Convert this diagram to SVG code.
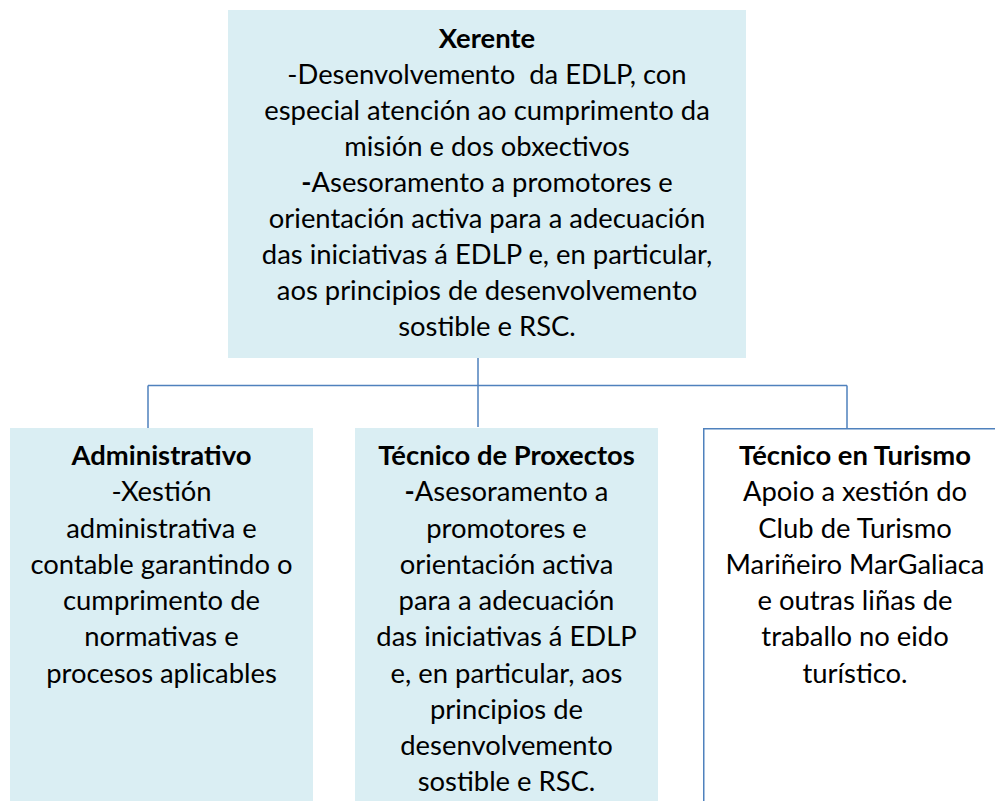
<svg xmlns="http://www.w3.org/2000/svg" width="995" height="801" viewBox="0 0 995 801">
<style>
.box{fill:#DAEEF3;}
.obox{fill:#FFFFFF;stroke:#4F81BD;stroke-width:1.5;}
.conn{fill:none;stroke:#4F81BD;stroke-width:1.5;}
text{font-family:Lato,"Open Sans","Liberation Sans",sans-serif;font-size:27.4px;fill:#000;text-anchor:middle;}
.b{font-weight:bold;}
</style>
<rect width="995" height="801" fill="#FFFFFF"/>
<g id="connectors">
<path class="conn" d="M478,358 V427 M148,385.5 H847 M148,385.5 V428 M847,385.5 V428"/>
</g>
<g id="xerente">
<rect class="box" x="228" y="10" width="518" height="348"/>
<text x="487" y="48"><tspan class="b">Xerente</tspan></text>
<text x="487" y="84" xml:space="preserve">-Desenvolvemento  da EDLP, con</text>
<text x="487" y="120">especial atención ao cumprimento da</text>
<text x="487" y="156">misión e dos obxectivos</text>
<text x="487" y="192"><tspan class="b">-</tspan>Asesoramento a promotores e</text>
<text x="487" y="228">orientación activa para a adecuación</text>
<text x="487" y="264">das iniciativas á EDLP e, en particular,</text>
<text x="487" y="300">aos principios de desenvolvemento</text>
<text x="487" y="336">sostible e RSC.</text>
</g>
<g id="administrativo">
<rect class="box" x="10" y="428" width="303" height="373"/>
<text x="161.5" y="465" class="b">Administrativo</text>
<text x="161.5" y="501.25">-Xestión</text>
<text x="161.5" y="537.5">administrativa e</text>
<text x="161.5" y="573.75">contable garantindo o</text>
<text x="161.5" y="610">cumprimento de</text>
<text x="161.5" y="646.25">normativas e</text>
<text x="161.5" y="682.5">procesos aplicables</text>
</g>
<g id="tecnico-proxectos">
<rect class="box" x="355" y="428" width="303" height="373"/>
<text x="506.5" y="465" class="b">Técnico de Proxectos</text>
<text x="506.5" y="501.25"><tspan class="b">-</tspan>Asesoramento a</text>
<text x="506.5" y="537.5">promotores e</text>
<text x="506.5" y="573.75">orientación activa</text>
<text x="506.5" y="610">para a adecuación</text>
<text x="506.5" y="646.25">das iniciativas á EDLP</text>
<text x="506.5" y="682.5">e, en particular, aos</text>
<text x="506.5" y="718.75">principios de</text>
<text x="506.5" y="755">desenvolvemento</text>
<text x="506.5" y="791.25">sostible e RSC.</text>
</g>
<g id="tecnico-turismo">
<rect class="obox" x="703.75" y="428.75" width="310" height="390"/>
<text x="855" y="465" class="b">Técnico en Turismo</text>
<text x="855" y="501.25">Apoio a xestión do</text>
<text x="855" y="537.5">Club de Turismo</text>
<text x="855" y="573.75">Mariñeiro MarGaliaca</text>
<text x="855" y="610">e outras liñas de</text>
<text x="855" y="646.25">traballo no eido</text>
<text x="855" y="682.5">turístico.</text>
</g>
</svg>
